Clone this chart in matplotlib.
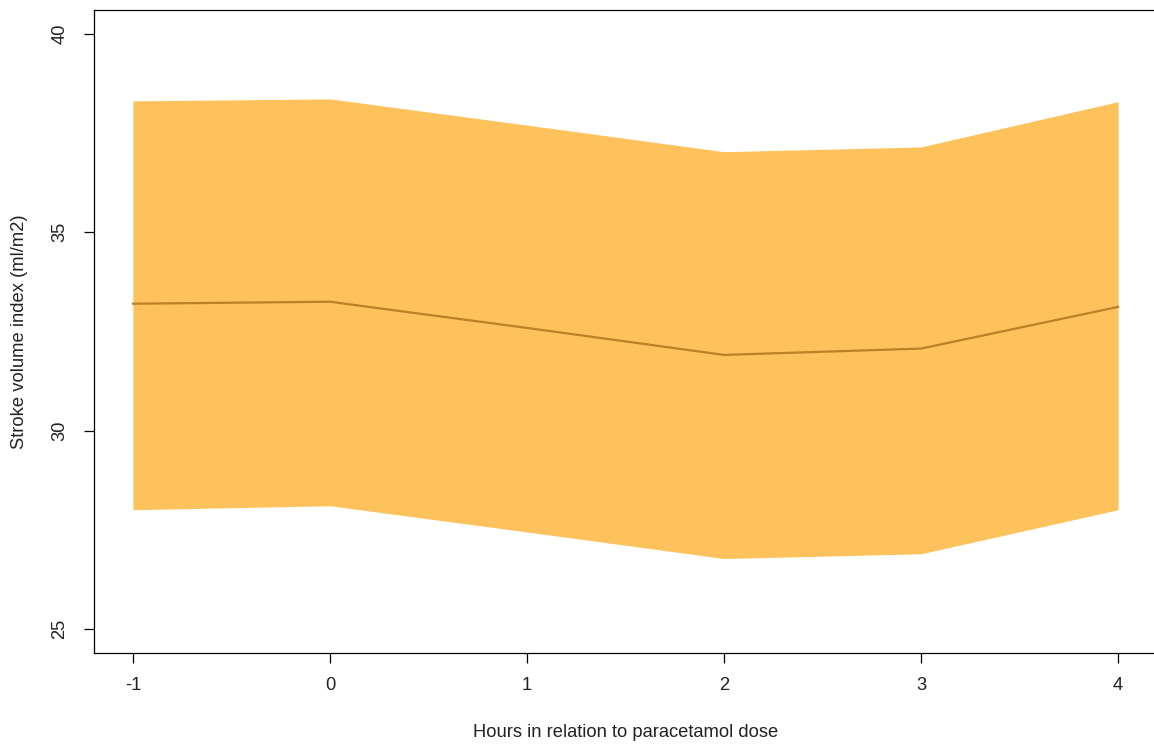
import matplotlib.pyplot as plt

# Stroke volume index around paracetamol dose (mean with 95% band)
hours = [-1, 0, 1, 2, 3, 4]
svi_mean = [33.20, 33.25, 32.59, 31.91, 32.07, 33.12]
svi_upper = [38.31, 38.36, 37.70, 37.03, 37.15, 38.29]
svi_lower = [28.01, 28.11, 27.45, 26.78, 26.90, 28.01]

x_ticks = [-1, 0, 1, 2, 3, 4]
y_ticks = [25, 30, 35, 40]

plt.rcParams['font.family'] = ['Liberation Sans', 'DejaVu Sans']

fig = plt.figure(figsize=(11.54, 7.45), dpi=100)
ax = fig.add_axes([93.5 / 1154, 92 / 745, 1064 / 1154, 643 / 745])

ax.fill_between(hours, svi_lower, svi_upper, color='#FDC25C', linewidth=0)
ax.plot(hours, svi_mean, color='#BA8125', linewidth=1.6)

ax.set_xlim(-1.2, 4.2)
ax.set_ylim(24.4, 40.6)
ax.set_xticks(x_ticks)
ax.set_xticklabels([str(t) for t in x_ticks])
ax.set_yticks(y_ticks)
ax.set_yticklabels([str(t) for t in y_ticks], rotation=90, va='center')

ax.tick_params(axis='both', direction='out', length=7.5, width=0.9,
               labelsize=13.2, color='black', labelcolor='#222222')
ax.tick_params(axis='x', pad=10)
ax.tick_params(axis='y', pad=10.5)

for s in ax.spines.values():
    s.set_linewidth(0.9)
    s.set_color('black')

ax.set_xlabel("Hours in relation to paracetamol dose", fontsize=13.2, color='#222222')
ax.set_ylabel("Stroke volume index (ml/m2)", fontsize=13.2, color='#222222')
ax.xaxis.set_label_coords(0.5, -0.11)
ax.yaxis.set_label_coords(-0.0615, 0.5)

fig.savefig("out.png", dpi=100)
